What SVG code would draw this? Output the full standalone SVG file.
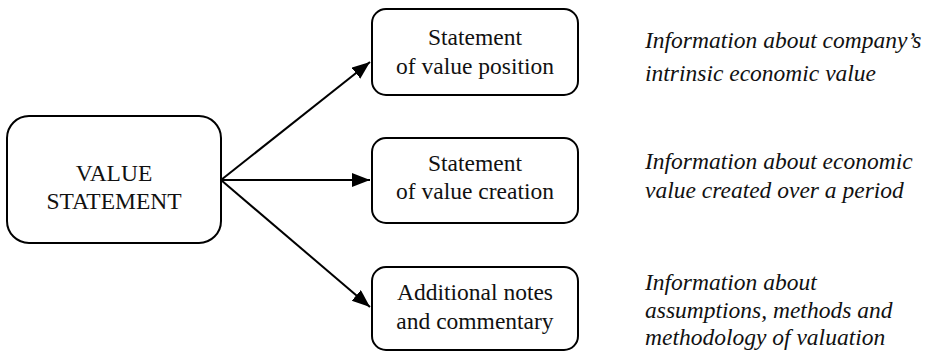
<svg xmlns="http://www.w3.org/2000/svg" width="933" height="351" viewBox="0 0 933 351">
<defs>
<style>
.box{fill:#fff;stroke:#000;stroke-width:2}
.t{font-family:"Liberation Serif","Times New Roman",serif;font-size:23.5px;fill:#111;text-anchor:middle}
.i{font-family:"Liberation Serif","Times New Roman",serif;font-size:23.5px;font-style:italic;fill:#111}
.c{stroke:#000;stroke-width:2;fill:none}
</style>
<marker id="ah" markerUnits="userSpaceOnUse" markerWidth="20" markerHeight="16" refX="18" refY="7" orient="auto">
<path d="M0,0 L18,7 L0,14 Z" fill="#000"/>
</marker>
</defs>
<rect width="933" height="351" fill="#fff"/>
<g id="connectors">
<line class="c" x1="221" y1="180" x2="370" y2="62" marker-end="url(#ah)"/>
<line class="c" x1="221" y1="180" x2="370" y2="180" marker-end="url(#ah)"/>
<line class="c" x1="221" y1="180" x2="370" y2="307" marker-end="url(#ah)"/>
</g>
<g id="value-statement">
<rect class="box" x="7" y="116" width="214" height="127" rx="22"/>
<text class="t" x="114" y="181">VALUE</text>
<text class="t" x="114" y="209">STATEMENT</text>
</g>
<g id="value-position">
<rect class="box" x="372" y="9" width="206" height="86" rx="14"/>
<text class="t" x="475" y="45">Statement</text>
<text class="t" x="475" y="74">of value position</text>
</g>
<g id="value-creation">
<rect class="box" x="372" y="138" width="206" height="85" rx="14"/>
<text class="t" x="475" y="171">Statement</text>
<text class="t" x="475" y="199">of value creation</text>
</g>
<g id="notes">
<rect class="box" x="372" y="267" width="206" height="83" rx="14"/>
<text class="t" x="475" y="300">Additional notes</text>
<text class="t" x="475" y="329">and commentary</text>
</g>
<g id="desc-position">
<text class="i" x="645" y="48">Information about company’s</text>
<text class="i" x="645" y="81">intrinsic economic value</text>
</g>
<g id="desc-creation">
<text class="i" x="645" y="169">Information about economic</text>
<text class="i" x="645" y="198">value created over a period</text>
</g>
<g id="desc-notes">
<text class="i" x="645" y="290">Information about</text>
<text class="i" x="645" y="318">assumptions, methods and</text>
<text class="i" x="645" y="345">methodology of valuation</text>
</g>
</svg>
